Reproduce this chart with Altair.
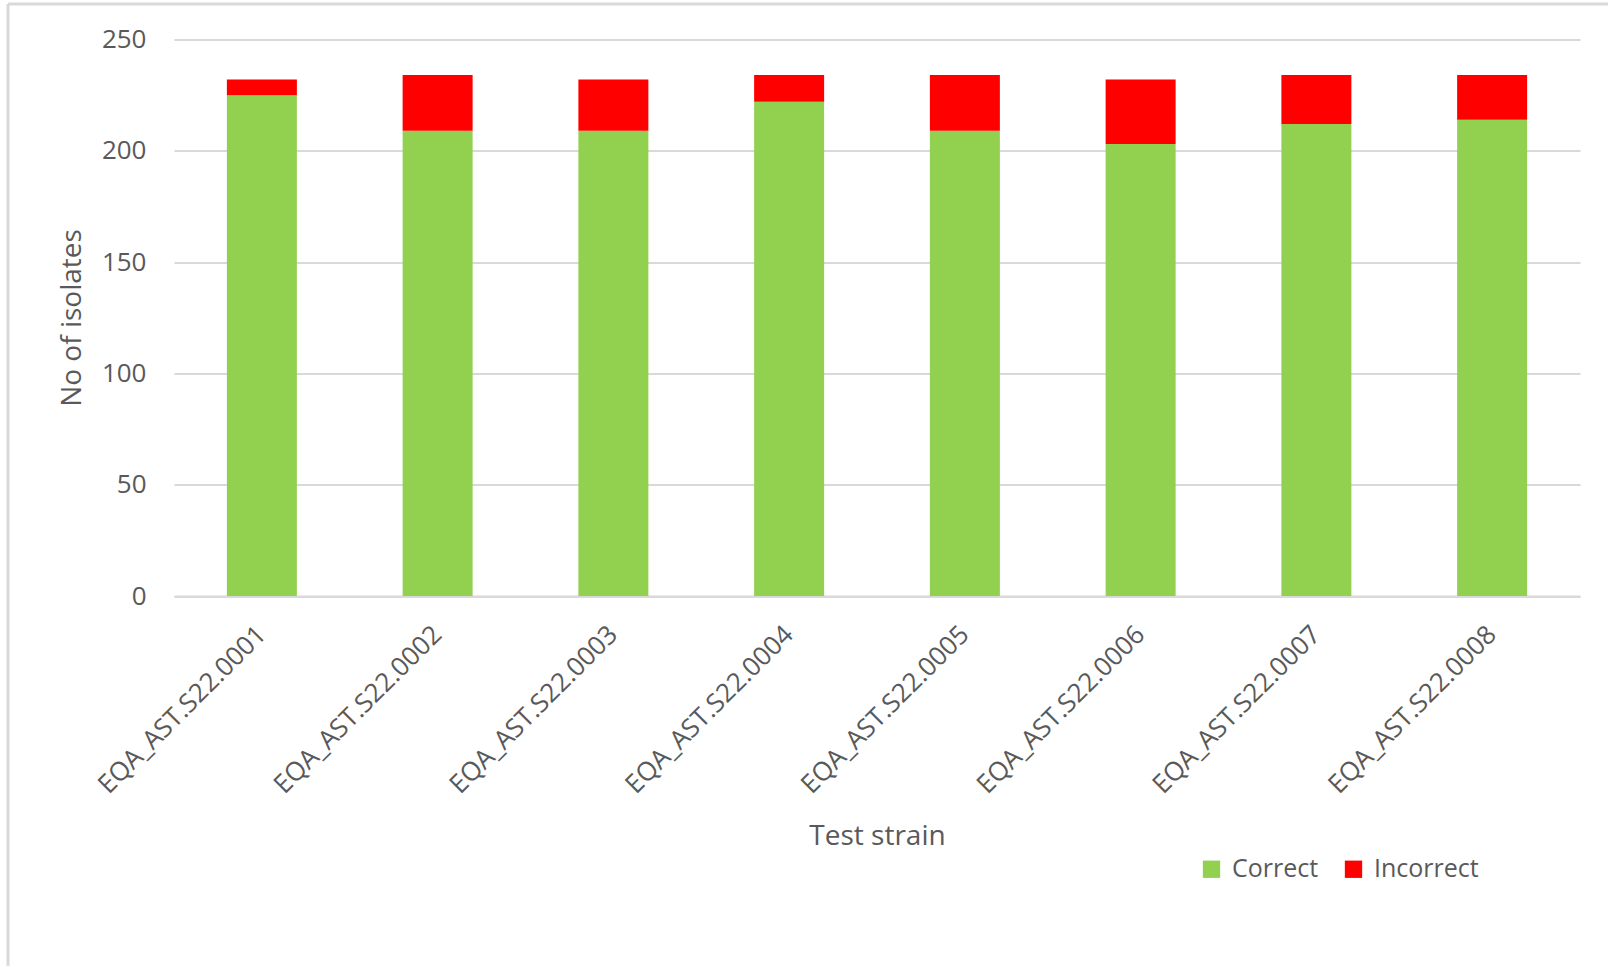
import altair as alt
import pandas as pd

strains = ["EQA_AST.S22.0001", "EQA_AST.S22.0002", "EQA_AST.S22.0003", "EQA_AST.S22.0004",
           "EQA_AST.S22.0005", "EQA_AST.S22.0006", "EQA_AST.S22.0007", "EQA_AST.S22.0008"]
correct = [225, 209, 209, 222, 209, 203, 212, 214]
incorrect = [7, 25, 23, 12, 25, 29, 22, 20]
series = ["Correct", "Incorrect"]
colors = ["#92D050", "#FF0000"]

rows = []
for s, c, i in zip(strains, correct, incorrect):
    rows.append({"strain": s, "result": "Correct", "n": c, "ord": 0})
    rows.append({"strain": s, "result": "Incorrect", "n": i, "ord": 1})
df = pd.DataFrame(rows)

FONT = "Open Sans"
GRAY = "#595959"

bars = alt.Chart(df).mark_bar(size=70).encode(
    x=alt.X("strain:N", sort=strains, title="Test strain",
            scale=alt.Scale(paddingInner=0.6, paddingOuter=0.3),
            axis=alt.Axis(labelAngle=-45, labelAlign="right", labelBaseline="middle",
                          labelPadding=34, labelFontSize=26, labelColor=GRAY, labelFont=FONT,
                          labelLimit=1000, grid=False,
                          ticks=False, domainColor="#D9D9D9", domainWidth=2,
                          titleFontSize=28, titleFont=FONT, titleColor=GRAY, titleFontWeight="normal",
                          titleY=240, titleBaseline="middle")),
    y=alt.Y("n:Q", title="No of isolates", stack="zero",
            scale=alt.Scale(domain=[0, 250], nice=False),
            axis=alt.Axis(values=[0, 50, 100, 150, 200, 250], labelFontSize=26, labelColor=GRAY,
                          labelFont=FONT, labelPadding=28, ticks=False, domain=False,
                          gridColor="#D9D9D9", gridWidth=2,
                          titleFontSize=28, titleFont=FONT, titleColor=GRAY, titleFontWeight="normal",
                          titleX=-102, titleY=278, titleBaseline="middle", titleAlign="center",
                          titleAngle=-90)),
    color=alt.Color("result:N", sort=series,
                    scale=alt.Scale(domain=series, range=colors),
                    legend=alt.Legend(title=None, orient="none", direction="horizontal",
                                      legendX=1025, legendY=817, symbolType="square",
                                      symbolSize=300, symbolStrokeWidth=0, labelFontSize=25,
                                      labelColor=GRAY, labelFont=FONT, columnPadding=22,
                                      symbolOffset=0, labelOffset=8)),
    order=alt.Order("ord:Q"),
)

frame = pd.DataFrame({"a": [0]})
left_line = alt.Chart(frame).mark_rule(color="#D9D9D9", strokeWidth=3).encode(
    x=alt.value(-166), y=alt.value(-35.5), y2=alt.value(930))
top_line = alt.Chart(frame).mark_rule(color="#D9D9D9", strokeWidth=3).encode(
    x=alt.value(-166), x2=alt.value(1434), y=alt.value(-35.5))

chart = alt.layer(bars, left_line, top_line).properties(
    width=1406, height=556.5,
    background="white",
    autosize=alt.AutoSizeParams(type="none"),
    padding={"left": 174, "top": 39.5, "right": 28, "bottom": 370},
).configure_view(stroke=None, strokeWidth=0)

chart.save("out.html", embed_options={"renderer": "svg", "actions": False})
